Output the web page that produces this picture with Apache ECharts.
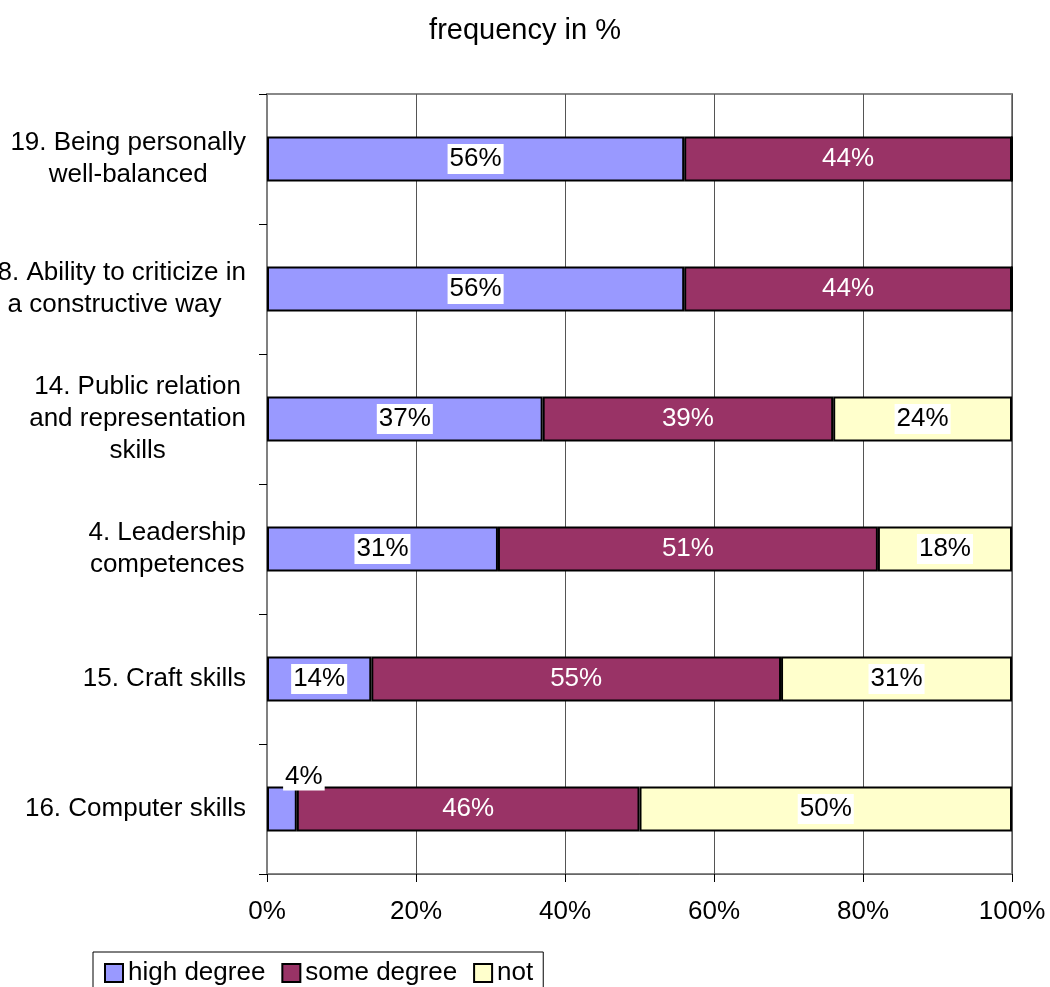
<!DOCTYPE html>
<html>
<head>
<meta charset="utf-8">
<script src="https://cdn.jsdelivr.net/npm/echarts@6/dist/echarts.min.js"></script>
<style>
  html, body { margin: 0; padding: 0; background: #fff; }
  #chart { width: 1050px; height: 987px; }
</style>
</head>
<body>
<div id="chart"></div>
<script>
// Survey items, listed top to bottom
const categories = [
  '19. Being personally\nwell-balanced',
  '18. Ability to criticize in\na constructive way',
  '14. Public relation\nand representation\nskills',
  '4. Leadership\ncompetences',
  '15. Craft skills',
  '16. Computer skills'
];
const seriesNames = ['high degree', 'some degree', 'not'];
const highDegree = [56, 56, 37, 31, 14, 4];
const someDegree = [44, 44, 39, 51, 55, 46];
const notAtAll   = [0, 0, 24, 18, 31, 50];
const xTicks = { min: 0, max: 100, interval: 20 };

const FONT = '"Liberation Sans", Arial, sans-serif';
const colors = ['#9999FF', '#993366', '#FFFFCC'];

// Label style per series: dark text on a white box for light fills,
// white text straight on the dark fill.
const labelStyles = [
  { color: '#000', backgroundColor: '#fff', padding: [3, 2, 1, 2] },
  { color: '#fff' },
  { color: '#000', backgroundColor: '#fff', padding: [3, 2, 1, 2] }
];

function toItems(values) {
  return values.map(v => {
    const item = { value: v };
    if (v <= 0) {
      item.label = { show: false };
    } else if (v < 8) {
      // too narrow for the label: lift it above the segment
      item.label = { position: 'top', distance: -4, offset: [22, 0] };
    }
    return item;
  });
}

function makeSeries(name, values, idx) {
  return {
    name: name,
    type: 'bar',
    stack: 'total',
    barWidth: 45,
    data: toItems(values),
    itemStyle: { color: colors[idx], borderColor: '#000', borderWidth: 2 },
    label: Object.assign({
      show: true,
      position: 'inside',
      fontFamily: FONT,
      fontSize: 26,
      formatter: p => p.value + '%'
    }, labelStyles[idx])
  };
}

const chart = echarts.init(document.getElementById('chart'), null, { renderer: 'canvas' });

chart.setOption({
  animation: false,
  backgroundColor: '#fff',
  title: {
    text: 'frequency in %',
    left: 'center',
    top: 11,
    textStyle: { fontFamily: FONT, fontSize: 29, fontWeight: 'normal', color: '#000' }
  },
  legend: {
    data: seriesNames,
    left: 93,
    top: 952,
    orient: 'horizontal',
    padding: [6, 10, 30, 11],
    itemWidth: 18,
    itemHeight: 18,
    itemGap: 16,
    icon: 'rect',
    borderColor: '#000',
    borderWidth: 1,
    textStyle: { fontFamily: FONT, fontSize: 26, color: '#000', lineHeight: 30 }
  },
  grid: {
    left: 267,
    right: 38,
    top: 94,
    bottom: 113,
    show: true,
    borderColor: '#888',
    borderWidth: 2,
    containLabel: false,
    outerBoundsMode: 'none'
  },
  xAxis: {
    type: 'value',
    min: xTicks.min,
    max: xTicks.max,
    interval: xTicks.interval,
    axisLine: { show: true, lineStyle: { color: '#666', width: 1 } },
    axisTick: { show: true, length: 8, lineStyle: { color: '#000' } },
    axisLabel: {
      formatter: '{value}%',
      fontFamily: FONT,
      fontSize: 26,
      color: '#000',
      margin: 25
    },
    splitLine: { show: true, lineStyle: { color: '#555', width: 1 } }
  },
  yAxis: {
    type: 'category',
    inverse: true,
    data: categories,
    axisLine: { show: true, lineStyle: { color: '#808080', width: 2 } },
    axisTick: { show: true, length: 8, lineStyle: { color: '#000' } },
    axisLabel: {
      fontFamily: FONT,
      fontSize: 26,
      color: '#000',
      margin: 21,
      align: 'right',
      lineHeight: 32,
      formatter: v => v.split('\n').map(l => '{c|' + l + '}').join('\n'),
      rich: {
        c: { align: 'center', fontFamily: FONT, fontSize: 26, lineHeight: 32, color: '#000' }
      }
    },
    splitLine: { show: false }
  },
  series: [
    makeSeries(seriesNames[0], highDegree, 0),
    makeSeries(seriesNames[1], someDegree, 1),
    makeSeries(seriesNames[2], notAtAll, 2)
  ]
});
</script>
</body>
</html>
